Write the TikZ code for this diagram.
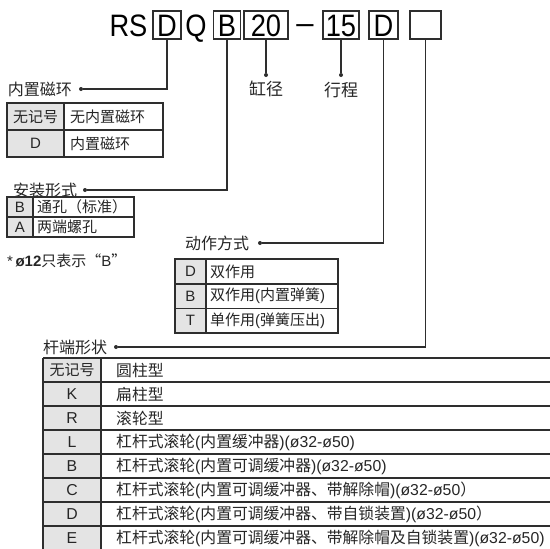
\documentclass[tikz,border=0pt]{standalone}
\usepackage{fontspec}
\setmainfont{Liberation Sans}
\newfontfamily\cjk{Noto Sans CJK SC}
\newcommand{\cj}[1]{{\cjk #1}}
\definecolor{ln}{HTML}{2E2E2E}
\definecolor{gr}{HTML}{E4E4E4}
\definecolor{tx}{HTML}{262626}
\begin{document}
\begin{tikzpicture}[x=1pt,y=-1pt,
  conn/.style={draw=ln, line width=1.1pt},
  tline/.style={draw=ln, line width=1.1pt},
  dot/.style={circle, fill=ln, inner sep=0pt, minimum size=4pt},
  hd/.style={inner sep=0pt, font=\fontsize{31}{31}\selectfont, text height=22.2pt, text depth=0pt, minimum height=28pt, text=black},
  hbox/.style={hd, draw=ln, line width=1.1pt},
  lab/.style={inner sep=0pt, font=\cjk\fontsize{16}{16}\selectfont, text=tx},
  t15/.style={inner sep=0pt, font=\fontsize{15}{15}\selectfont, text=tx},
  t16/.style={inner sep=0pt, font=\fontsize{15.8}{16}\selectfont, text=tx},
]
\useasboundingbox (0,0) rectangle (550,549);
\fill[white] (0,0) rectangle (550,549);

% ---------- header ----------
\node[hd] (hRS) at (128.5,25) {\scalebox{0.88}[1]{RS}};
\node[hbox, minimum width=28pt] (bD) at (167,25) {\scalebox{0.88}[1]{D}};
\node[hd] (hQ) at (196,25) {\scalebox{0.88}[1]{Q}};
\node[hbox, minimum width=27pt] (bB) at (227,25) {\scalebox{0.88}[1]{B}};
\node[hbox, minimum width=44pt] (b20) at (266,25) {\scalebox{0.88}[1]{20}};
\node[hd] (hdash) at (305,22) {–};
\node[hbox, minimum width=36pt] (b15) at (341,25) {\scalebox{0.88}[1]{15}};
\node[hbox, minimum width=29pt] (bD2) at (383.5,25) {\scalebox{0.88}[1]{D}};
\node[hbox, minimum width=31pt] (bE) at (425.5,25) {};

% bore / stroke
\node[dot] (d20) at (266,75) {};
\node[dot] (d15) at (341,75) {};
\node[lab, font=\cjk\fontsize{17}{17}\selectfont] (l20) at (266,89) {缸径};
\node[lab, font=\cjk\fontsize{17}{17}\selectfont] (l15) at (341,90) {行程};
\draw[conn] (b20.south) -- (d20);
\draw[conn] (b15.south) -- (d15);

% ---------- table 1 : magnet ----------
\node[lab, anchor=east] (lA) at (72,89) {内置磁环};
\node[dot] (dA) at (81,89) {};
\draw[conn] (bD.south) |- (dA);
\fill[gr] (7,103) rectangle (64,157);
\draw[tline] (7,103) rectangle (163,157);
\draw[tline] (64,103) -- (64,157);
\draw[tline] (7,130) -- (163,130);
\node[t15] (t1k1) at (35.5,116.5) {\cj{无记号}};
\node[t15] (t1k2) at (35.5,143.5) {D};
\node[t15, anchor=west] (t1v1) at (70,116.5) {\cj{无内置磁环}};
\node[t15, anchor=west] (t1v2) at (70,143.5) {\cj{内置磁环}};

% ---------- table 2 : mounting ----------
\node[lab, anchor=west] (lB) at (13,190) {安装形式};
\node[dot] (dB) at (85,190) {};
\draw[conn] (bB.south) |- (dB);
\fill[gr] (7,197) rectangle (33,237);
\draw[tline] (7,197) rectangle (134,237);
\draw[tline] (33,197) -- (33,237);
\draw[tline] (7,217) -- (134,217);
\node[t15] (t2k1) at (20,207) {B};
\node[t15] (t2k2) at (20,227) {A};
\node[t15, anchor=west] (t2v1) at (37,207) {\cj{通孔（标准）}};
\node[t15, anchor=west] (t2v2) at (37,227) {\cj{两端螺孔}};
\node[t15, anchor=west] (note) at (7,261) {*\,{\bfseries ø12}\cj{只表示“}B\cj{”}};

% ---------- table 3 : action ----------
\node[lab, anchor=west] (lC) at (185,243) {动作方式};
\node[dot] (dC) at (260,243) {};
\draw[conn] (bD2.south) |- (dC);
\fill[gr] (175,259) rectangle (206,333);
\draw[tline] (175,259) rectangle (338,333);
\draw[tline] (206,259) -- (206,333);
\draw[tline] (175,284) -- (338,284);
\draw[tline] (175,308.5) -- (338,308.5);
\node[t15] (t3k1) at (190.5,271.5) {D};
\node[t15] (t3k2) at (190.5,296) {B};
\node[t15] (t3k3) at (190.5,320.5) {T};
\node[t15, anchor=west] (t3v1) at (210,271.5) {\cj{双作用}};
\node[t15, anchor=west] (t3v2) at (210,296) {\cj{双作用}(\cj{内置弹簧})};
\node[t15, anchor=west] (t3v3) at (210,320.5) {\cj{单作用}(\cj{弹簧压出})};

% ---------- table 4 : rod end ----------
\node[lab, anchor=west] (lD) at (43,347) {杆端形状};
\node[dot] (dD) at (116,347) {};
\draw[conn] (bE.south) |- (dD);
\fill[gr] (43,358) rectangle (101,549);
\foreach \yy in {358,382,406,430,454,478,502,526}
  \draw[tline] (43,\yy) -- (550,\yy);
\draw[tline] (43,358) -- (43,549);
\draw[tline] (101,358) -- (101,549);
\node[t15] (t4k1) at (72,370) {\cj{无记号}};
\node[t16] (t4k2) at (72,394) {K};
\node[t16] (t4k3) at (72,418) {R};
\node[t16] (t4k4) at (72,442) {L};
\node[t16] (t4k5) at (72,466) {B};
\node[t16] (t4k6) at (72,490) {C};
\node[t16] (t4k7) at (72,514) {D};
\node[t16] (t4k8) at (72,538) {E};
\node[t16, anchor=west] (t4v1) at (116,370) {\cj{圆柱型}};
\node[t16, anchor=west] (t4v2) at (116,394) {\cj{扁柱型}};
\node[t16, anchor=west] (t4v3) at (116,418) {\cj{滚轮型}};
\node[t16, anchor=west] (t4v4) at (116,442) {\cj{杠杆式滚轮}(\cj{内置缓冲器})(ø32-ø50)};
\node[t16, anchor=west] (t4v5) at (116,466) {\cj{杠杆式滚轮}(\cj{内置可调缓冲器})(ø32-ø50)};
\node[t16, anchor=west] (t4v6) at (116,490) {\cj{杠杆式滚轮}(\cj{内置可调缓冲器、带解除帽})(ø32-ø50\cj{）}};
\node[t16, anchor=west] (t4v7) at (116,514) {\cj{杠杆式滚轮}(\cj{内置可调缓冲器、带自锁装置})(ø32-ø50\cj{）}};
\node[t16, anchor=west] (t4v8) at (116,538) {\cj{杠杆式滚轮}(\cj{内置可调缓冲器、带解除帽及自锁装置})(ø32-ø50)};
\end{tikzpicture}
\end{document}
